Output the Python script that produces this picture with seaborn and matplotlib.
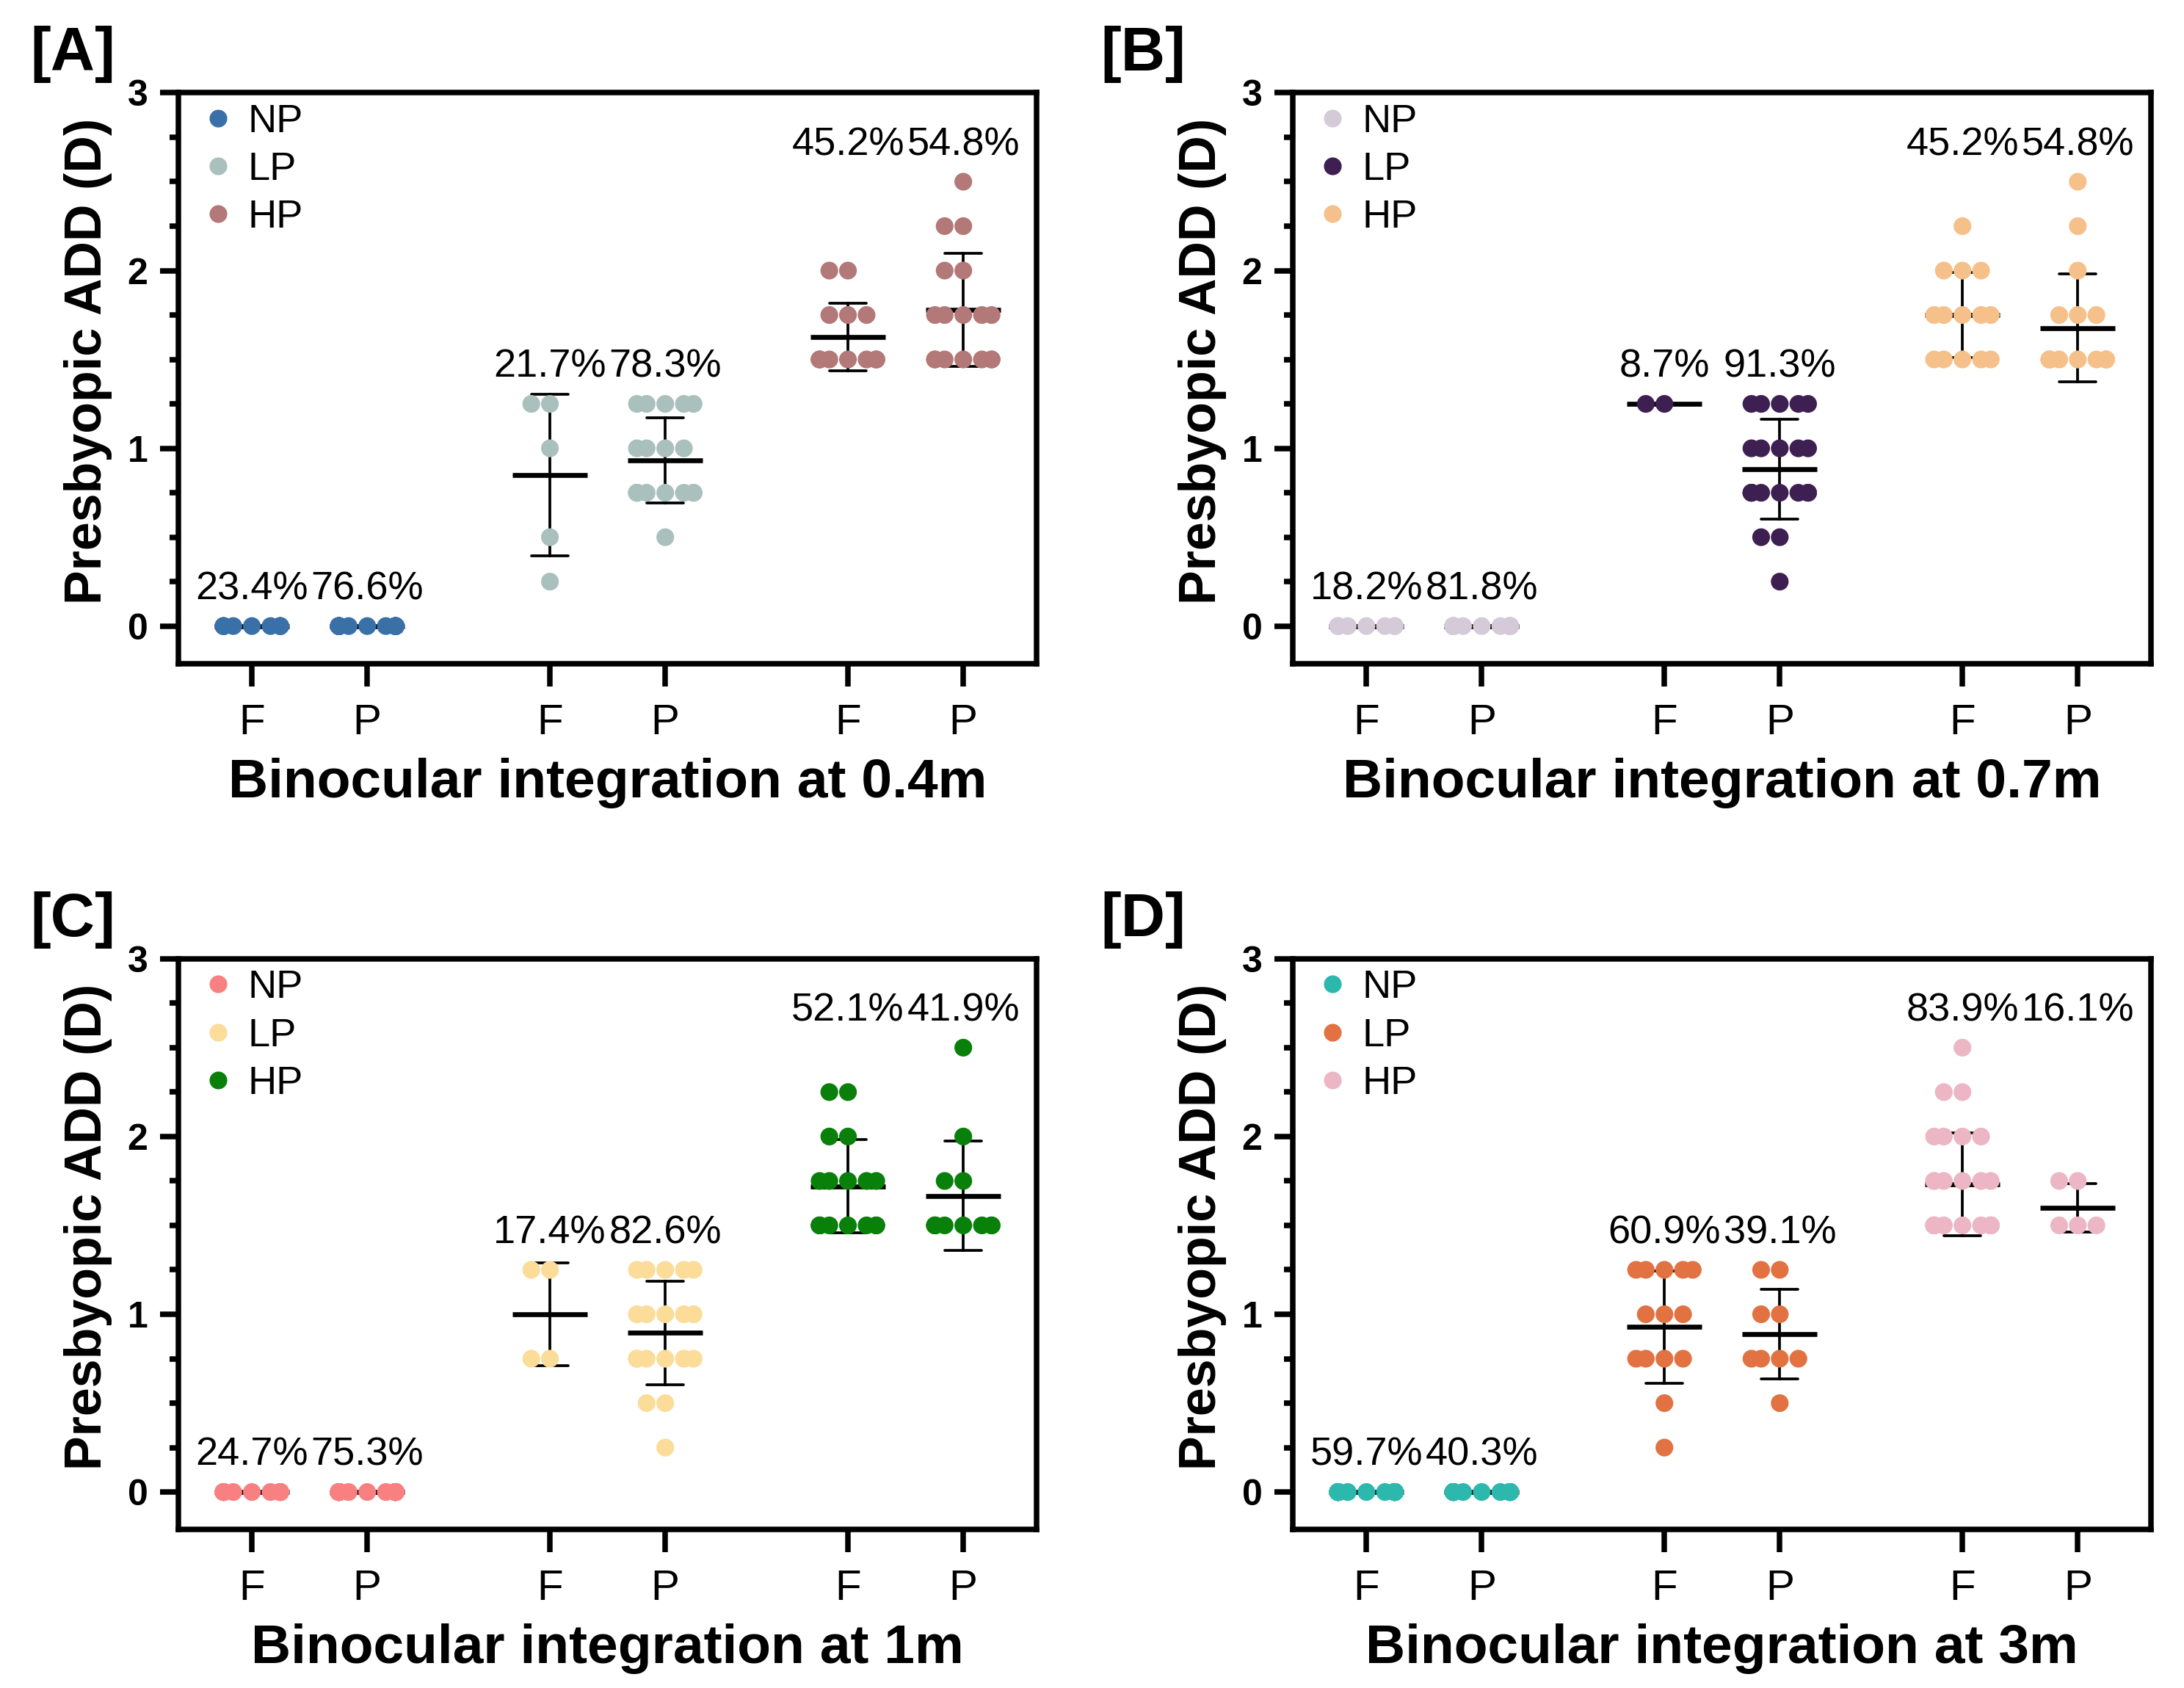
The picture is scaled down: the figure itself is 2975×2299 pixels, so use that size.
import numpy as np
import pandas as pd
import matplotlib
matplotlib.use("Agg")
import matplotlib.pyplot as plt
from matplotlib.lines import Line2D
from matplotlib.ticker import MultipleLocator
import seaborn as sns

sns.set_style("ticks", rc={"axes.edgecolor": "black", "xtick.color": "black",
                           "ytick.color": "black", "text.color": "black",
                           "axes.labelcolor": "black"})
plt.rcParams['font.family'] = ['Liberation Sans', 'DejaVu Sans']

LEVELS = ["NP", "LP", "HP"]
TICK_LABELS = ["F", "P", "F", "P", "F", "P"]

# [A] 0.4m
A_NP_F = [0.0] * 11
A_NP_P = [0.0] * 36
A_LP_F = [1.25, 1.25, 1.0, 0.5, 0.25]
A_LP_P = [1.25] * 5 + [1.0] * 4 + [0.75] * 8 + [0.5]
A_HP_F = [2.0] * 2 + [1.75] * 3 + [1.5] * 9
A_HP_P = [2.5] + [2.25] * 2 + [2.0] * 2 + [1.75] * 5 + [1.5] * 7
A_PCT = ["23.4%", "76.6%", "21.7%", "78.3%", "45.2%", "54.8%"]
A_COLORS = ["#3a70a8", "#a9c0bc", "#b37878"]

# [B] 0.7m
B_NP_F = [0.0] * 8
B_NP_P = [0.0] * 36
B_LP_F = [1.25, 1.25]
B_LP_P = [1.25] * 5 + [1.0] * 5 + [0.75] * 8 + [0.5] * 2 + [0.25]
B_HP_F = [2.25] + [2.0] * 3 + [1.75] * 5 + [1.5] * 5
B_HP_P = [2.5, 2.25, 2.0] + [1.75] * 3 + [1.5] * 11
B_PCT = ["18.2%", "81.8%", "8.7%", "91.3%", "45.2%", "54.8%"]
B_COLORS = ["#d5cbd8", "#3e1f52", "#f6c08a"]

# [C] 1m
C_NP_F = [0.0] * 18
C_NP_P = [0.0] * 55
C_LP_F = [1.25, 1.25, 0.75, 0.75]
C_LP_P = [1.25] * 5 + [1.0] * 5 + [0.75] * 6 + [0.5] * 2 + [0.25]
C_HP_F = [2.25] * 2 + [2.0] * 2 + [1.75] * 5 + [1.5] * 8
C_HP_P = [2.5, 2.0, 1.75, 1.75] + [1.5] * 8
C_PCT = ["24.7%", "75.3%", "17.4%", "82.6%", "52.1%", "41.9%"]
C_COLORS = ["#f98080", "#fbdc98", "#08800a"]

# [D] 3m
D_NP_F = [0.0] * 40
D_NP_P = [0.0] * 27
D_LP_F = [1.25] * 5 + [1.0] * 3 + [0.75] * 4 + [0.5, 0.25]
D_LP_P = [1.25] * 2 + [1.0] * 2 + [0.75] * 4 + [0.5]
D_HP_F = [2.5] + [2.25] * 2 + [2.0] * 4 + [1.75] * 6 + [1.5] * 13
D_HP_P = [1.75] * 2 + [1.5] * 3
D_PCT = ["59.7%", "40.3%", "60.9%", "39.1%", "83.9%", "16.1%"]
D_COLORS = ["#2cb8ad", "#e27242", "#ecb6c4"]

OFFSET = 0.1935
SPREAD = 0.095
POSITIONS = np.array([g + s * OFFSET for g in range(3) for s in (-1, 1)])


def build_frame(groups):
    rows = []
    for i, vals in enumerate(groups):
        for v in vals:
            rows.append((POSITIONS[i], v, LEVELS[i // 2]))
    return pd.DataFrame(rows, columns=["pos", "add", "level"])


def draw_panel(ax, groups, pct, colors, xlabel):
    df = build_frame(groups)
    # mean +- SD
    sns.pointplot(data=df, x="pos", y="add", native_scale=True, errorbar="sd",
                  color="black", marker="_", markersize=24.5, markeredgewidth=1.6,
                  linestyle="none", capsize=0.32, err_kws={"linewidth": 0.9},
                  legend=False, ax=ax)
    sns.swarmplot(data=df, x="pos", y="add", hue="level",
                  palette=dict(zip(LEVELS, colors)), native_scale=True,
                  size=5.8, legend=False, warn_thresh=1, zorder=3, ax=ax)

    for g in range(3):
        top = max(max(groups[2 * g]), max(groups[2 * g + 1])) + 0.15
        for j in range(2):
            ax.text(POSITIONS[2 * g + j], top, pct[2 * g + j], ha="center",
                    va="baseline", fontsize=13)

    ax.set_xlim(-0.44, 2.44)
    ax.set_ylim(-0.21, 3)
    ax.set_xticks(POSITIONS, TICK_LABELS)
    ax.set_yticks([0, 1, 2, 3])
    ax.yaxis.set_minor_locator(MultipleLocator(0.25))
    for s in ax.spines.values():
        s.set_linewidth(1.8)
    ax.tick_params(axis="x", length=7.5, width=1.8, labelsize=14, pad=5.5)
    ax.tick_params(axis="y", which="major", length=6, width=1.8, labelsize=12, pad=4)
    ax.tick_params(axis="y", which="minor", length=3, width=1.8)
    for lbl in ax.get_yticklabels():
        lbl.set_fontweight("bold")

    ax.set_xlabel(xlabel, fontsize=18, fontweight="bold")
    ax.xaxis.set_label_coords(0.5, -0.165)
    ax.set_ylabel("Presbyopic ADD (D)", fontsize=16.8, fontweight="bold")
    ax.yaxis.set_label_coords(-0.077, 0.53)

    handles = [Line2D([], [], marker="o", linestyle="", markersize=5.8,
                      markerfacecolor=c, markeredgewidth=0) for c in colors]
    ax.legend(handles, LEVELS, loc="upper left", bbox_to_anchor=(0.0, 1.03),
              frameon=False, fontsize=13, handlelength=0.6, handletextpad=0.45,
              labelspacing=0.28, borderaxespad=0.3)


def squeeze_swarms(ax):
    # freeze the swarm layout and pack wide rows into a narrow column,
    # points overlapping at the edges like the original figure
    for coll in ax.collections:
        offs = np.array(coll.get_offsets())
        if len(offs) == 0:
            continue
        for k in range(len(offs)):
            c = POSITIONS[np.argmin(np.abs(POSITIONS - offs[k, 0]))]
            offs[k, 0] = c + np.clip(offs[k, 0] - c, -SPREAD, SPREAD)
        coll.set_offsets(offs)
        if "draw" in coll.__dict__:
            del coll.draw


fig = plt.figure(figsize=(2975 / 300, 2299 / 300), dpi=300)
boxes = [(0.0817, 0.607), (0.592, 0.607), (0.0817, 0.094), (0.592, 0.094)]
tag_x = [0.014, 0.504, 0.014, 0.504]
panels = [
    ([A_NP_F, A_NP_P, A_LP_F, A_LP_P, A_HP_F, A_HP_P], A_PCT, A_COLORS,
     "Binocular integration at 0.4m", "[A]"),
    ([B_NP_F, B_NP_P, B_LP_F, B_LP_P, B_HP_F, B_HP_P], B_PCT, B_COLORS,
     "Binocular integration at 0.7m", "[B]"),
    ([C_NP_F, C_NP_P, C_LP_F, C_LP_P, C_HP_F, C_HP_P], C_PCT, C_COLORS,
     "Binocular integration at 1m", "[C]"),
    ([D_NP_F, D_NP_P, D_LP_F, D_LP_P, D_HP_F, D_HP_P], D_PCT, D_COLORS,
     "Binocular integration at 3m", "[D]"),
]
axes = []
for (x0, y0), tx, (groups, pct, colors, xlabel, tag) in zip(boxes, tag_x, panels):
    ax = fig.add_axes([x0, y0, 0.393, 0.338])
    draw_panel(ax, groups, pct, colors, xlabel)
    fig.text(tx, y0 + 0.338 + 0.023, tag, fontsize=20, fontweight="bold",
             ha="left", va="center")
    axes.append(ax)

fig.canvas.draw()
for ax in axes:
    squeeze_swarms(ax)

fig.savefig("out.png", dpi=300)
